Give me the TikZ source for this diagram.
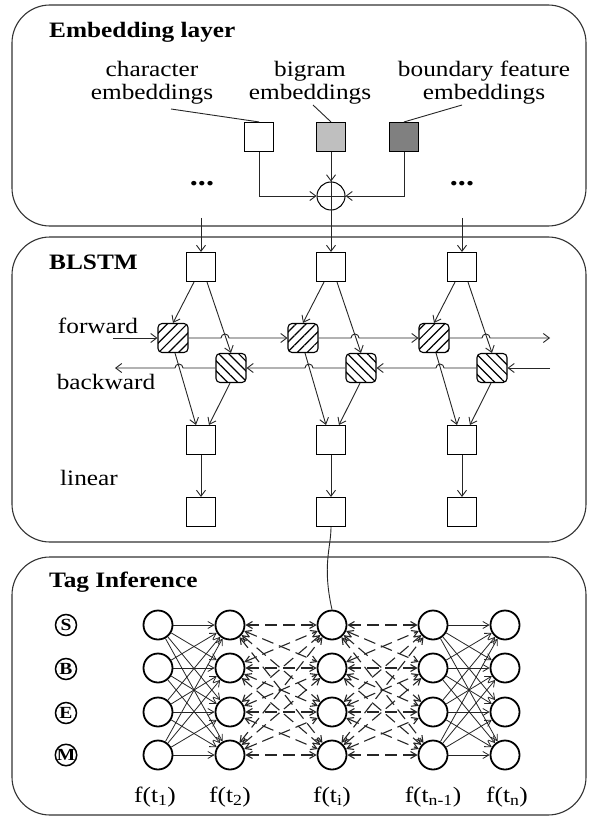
\documentclass[tikz,border=0pt]{standalone}
\usepackage{fontspec}
\setmainfont{Liberation Serif}[FakeStretch=1.15]
\usetikzlibrary{arrows.meta,patterns.meta,calc}
\begin{document}
\begin{tikzpicture}[x=1pt,y=-1pt,
  panel/.style={draw=black!80,line width=1.1pt,rounded corners=38pt},
  sq/.style={draw=black,line width=1.1pt,minimum width=29pt,minimum height=29pt,inner sep=0pt,fill=white},
  hatchF/.style={draw=black,line width=1.1pt,rounded corners=4pt,minimum width=30pt,minimum height=29pt,inner sep=0pt,fill=white,
     postaction={pattern={Lines[angle=45,distance=7pt,line width=1.2pt]}}},
  hatchB/.style={draw=black,line width=1.1pt,rounded corners=4pt,minimum width=30pt,minimum height=29pt,inner sep=0pt,fill=white,
     postaction={pattern={Lines[angle=-45,distance=7pt,line width=1.2pt]}}},
  con/.style={line width=0.9pt,draw=black!85},
  arr/.style={con,-{Straight Barb[length=6pt,width=9pt]}},
  lbl/.style={font=\fontsize{22}{23}\selectfont,align=center,inner sep=0pt},
  ttl/.style={font=\fontsize{22}{23}\selectfont\bfseries,anchor=base west,inner sep=0pt},
  st/.style={circle,draw=black,line width=1.8pt,minimum size=29pt,inner sep=0pt},
  tagl/.style={circle,draw=black,line width=1.5pt,minimum size=21pt,inner sep=0pt,font=\fontsize{17}{17}\selectfont\bfseries},
  ed/.style={line width=0.8pt,draw=black!85,-{Straight Barb[length=6pt,width=7pt]}},
  dd/.style={line width=1.1pt,draw=black!85,{Straight Barb[length=6pt,width=7pt]}-{Straight Barb[length=6pt,width=7pt]},dash pattern=on 12pt off 6pt},
  dots/.style={font=\fontsize{28}{28}\selectfont\bfseries,inner sep=0pt},
]
\useasboundingbox (0,0) rectangle (591,818);
\fill[white] (0,0) rectangle (591,818);
% panels
\draw[panel] (12,5) rectangle (586,226);
\draw[panel] (12,237) rectangle (586,542);
\draw[panel] (12,557) rectangle (586,815);
% titles
\node[ttl] (tEmb) at (49,38) {Embedding layer};
\node[ttl] (tBl) at (49,269) {BLSTM};
\node[ttl] (tTag) at (49,587) {Tag Inference};
% embedding layer
\node[lbl,anchor=base] (lc) at (152,100) {character\\embeddings};
\node[lbl,anchor=base] (lb) at (310,100) {bigram\\embeddings};
\node[lbl,anchor=base] (lf) at (484,100) {boundary feature\\embeddings};
\node[sq] (s1) at (259,137) {};
\node[sq,fill=black!25] (s2) at (331,137) {};
\node[sq,fill=black!50] (s3) at (404,137) {};
\coordinate (p1) at (171,109);
\coordinate (p2) at (313,105);
\coordinate (p3) at (462,105);
\draw[con] (p1) -- (s1.north);
\draw[con] (p2) -- (s2.north);
\draw[con] (p3) -- (s3.north);
\node[circle,draw=black,line width=1pt,minimum size=28pt,inner sep=0pt] (pl) at (331,196) {};
\draw[con] (pl.north) -- (pl.south) (pl.west) -- (pl.east);
\draw[arr] (s1.south) |- (pl.west);
\draw[arr] (s3.south) |- (pl.east);
\draw[arr] (s2.south) -- (pl.north);
\node[dots] (d1) at (202,184) {...};
\node[dots] (d2) at (462,184) {...};
% BLSTM
\foreach \i/\c in {1/201,2/331,3/462}{
  \node[sq] (a\i) at (\c,267) {};
  \node[hatchF] (f\i) at (\c-28,338) {};
  \node[hatchB] (b\i) at (\c+30,368) {};
  \node[sq] (l\i) at (\c,440) {};
  \node[sq] (o\i) at (\c,512) {};
  \draw[arr] ([xshift=-7pt]a\i.south) -- (f\i.north);
  \draw[arr] ([xshift=6pt]a\i.south) -- (b\i.north);
  \draw[arr] ([xshift=2pt]f\i.south) -- ([xshift=-5pt]l\i.north);
  \draw[arr] ([xshift=-1pt]b\i.south) -- ([xshift=8pt]l\i.north);
  \draw[arr] (l\i.south) -- (o\i.north);
}
\coordinate (e1) at (201,218);
\coordinate (e3) at (462,218);
\draw[arr] (e1) -- (a1.north);
\draw[arr] (e3) -- (a3.north);
\draw[arr] (pl.south) -- (a2.north);
% forward chain
\coordinate (fin) at (113,338);
\coordinate (fout) at (550,338);
\draw[arr] (fin) -- (f1.west);
\draw[arr] (f1.east) -- (221,338) arc[start angle=180,end angle=360,radius=4] -- (f2.west);
\draw[arr] (f2.east) -- (351,338) arc[start angle=180,end angle=360,radius=4] -- (f3.west);
\draw[arr] (f3.east) -- (482,338) arc[start angle=180,end angle=360,radius=4] -- (fout);
% backward chain
\coordinate (bin) at (550,368);
\coordinate (bout) at (115,368);
\draw[arr] (bin) -- (b3.east);
\draw[arr] (b3.west) -- (444,368) arc[start angle=0,end angle=-180,radius=4] -- (b2.east);
\draw[arr] (b2.west) -- (313,368) arc[start angle=0,end angle=-180,radius=4] -- (b1.east);
\draw[arr] (b1.west) -- (183,368) arc[start angle=0,end angle=-180,radius=4] -- (bout);
\node[lbl] (lfw) at (98,326) {forward};
\node[lbl] (lbw) at (106,382) {backward};
\node[lbl] (llin) at (89,478) {linear};
% tag inference
\foreach \c/\x in {1/158,2/230,3/332,4/433,5/505}
  \foreach \r/\y in {1/625,2/668,3/712,4/755}
    \node[st] (g\c-\r) at (\x,\y) {};
\foreach \i in {1,...,4}
  \foreach \j in {1,...,4}{
    \draw[ed] (g1-\i) -- (g2-\j);
    \draw[ed] (g4-\i) -- (g5-\j);
    \draw[dd] (g2-\i) -- (g3-\j);
    \draw[dd] (g3-\i) -- (g4-\j);
  }
\node[tagl] (tS) at (66,625) {S};
\node[tagl] (tB) at (66,669) {B};
\node[tagl] (tE) at (66,713) {E};
\node[tagl] (tM) at (66,755) {M};
\draw[con] (o2.south) .. controls (331,548) and (322,565) .. (g3-1.north);
\node[lbl] (ft1) at (155,797) {f(t\textsubscript{1})};
\node[lbl] (ft2) at (230,797) {f(t\textsubscript{2})};
\node[lbl] (fti) at (332,797) {f(t\textsubscript{i})};
\node[lbl] (ftm) at (433,797) {f(t\textsubscript{n-1})};
\node[lbl] (ftn) at (507,797) {f(t\textsubscript{n})};
\end{tikzpicture}
\end{document}
